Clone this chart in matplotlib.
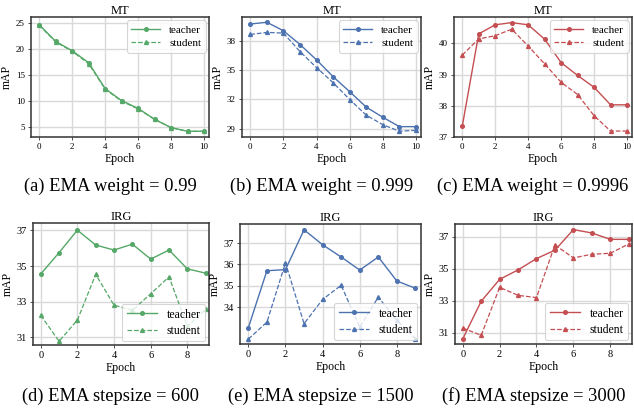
"""
EMA weight / stepsize ablation: teacher vs student mAP per epoch
"""

import numpy as np
import matplotlib.pyplot as plt

plt.rcParams['font.family'] = ['Liberation Serif', 'DejaVu Serif']
plt.rcParams['mathtext.fontset'] = 'stix'

green = '#55A868'
blue = '#4C72B0'
red = '#C44E52'

# top row: MT, 11 epochs
epochs_mt = list(range(11))
teacher_a = [24.6, 21.4, 19.6, 17.3, 12.3, 10.0, 8.5, 6.4, 4.8, 4.1, 4.1]
student_a = [24.5, 21.3, 19.5, 17.1, 12.2, 9.9, 8.4, 6.4, 4.8, 4.1, 4.1]
teacher_b = [39.72, 39.9, 39.03, 37.62, 36.04, 34.32, 32.78, 31.2, 30.16, 29.2, 29.2]
student_b = [38.65, 38.86, 38.79, 36.9, 35.25, 33.7, 31.98, 30.37, 29.4, 28.73, 28.83]
teacher_c = [37.34, 40.30, 40.59, 40.66, 40.59, 40.13, 39.38, 38.97, 38.59, 38.03, 38.03]
student_c = [39.62, 40.14, 40.24, 40.45, 39.91, 39.34, 38.75, 38.36, 37.68, 37.19, 37.19]

# bottom row: IRG, 10 epochs
epochs_irg = list(range(10))
teacher_d = [34.55, 35.75, 37.02, 36.18, 35.9, 36.23, 35.39, 35.9, 34.84, 34.6]
student_d = [32.23, 30.77, 31.96, 34.53, 32.8, 32.51, 33.44, 34.39, 31.61, 32.57]
teacher_e = [33.05, 35.71, 35.76, 37.62, 36.92, 36.35, 35.74, 36.35, 35.23, 34.89]
student_e = [32.52, 33.31, 36.08, 33.24, 34.37, 35.03, 33.07, 34.48, 33.39, 32.53]
teacher_f = [30.63, 32.98, 34.35, 34.94, 35.65, 36.17, 37.46, 37.25, 36.85, 36.85]
student_f = [31.31, 30.85, 33.85, 33.35, 33.21, 36.5, 35.69, 35.92, 35.98, 36.56]

captions = ['(a) EMA weight = 0.99', '(b) EMA weight = 0.999', '(c) EMA weight = 0.9996',
            '(d) EMA stepsize = 600', '(e) EMA stepsize = 1500', '(f) EMA stepsize = 3000']

W, H = 634, 409
fig = plt.figure(figsize=(W / 100, H / 100), dpi=100)

def px_axes(left, right, top, bottom):
    return fig.add_axes([left / W, 1 - bottom / H, (right - left) / W, (bottom - top) / H])

# (data, color, title, yticks, ylim, xlim, legend loc, box in px, tick size)
panels = [
    (epochs_mt, teacher_a, student_a, green, 'MT', [5, 10, 15, 20, 25], (3.0, 26.1), (-0.5, 10.3), 'upper right', (31, 209, 17, 137), 6.5),
    (epochs_mt, teacher_b, student_b, blue, 'MT', [29, 32, 35, 38], (28.14, 40.44), (-0.5, 10.3), 'upper right', (242, 421, 17, 137), 6.5),
    (epochs_mt, teacher_c, student_c, red, 'MT', [37, 38, 39, 40], (37.0, 40.84), (-0.5, 10.3), 'upper right', (454, 632, 17, 137), 6.5),
    (epochs_irg, teacher_d, student_d, green, 'IRG', [31, 33, 35, 37], (30.56, 37.42), (-0.42, 9.18), 'lower right', (33, 209, 223, 345), 7.5),
    (epochs_irg, teacher_e, student_e, blue, 'IRG', [34, 35, 36, 37], (32.29, 37.89), (-0.45, 9.3), 'lower right', (240, 421, 224, 344), 7.5),
    (epochs_irg, teacher_f, student_f, red, 'IRG', [31, 33, 35, 37], (30.31, 37.81), (-0.42, 9.18), 'lower right', (455, 632, 224, 344), 7.5),
]

for i, (x, t, s, col, title, yt, yl, xl, loc, box, fs) in enumerate(panels):
    ax = px_axes(*box)
    ax.plot(x, t, '-', marker='o', color=col, lw=1.0, ms=2.6, label='teacher')
    ax.plot(x, s, '--', marker='^', color=col, lw=0.9, ms=2.8, label='student')
    ax.set_xticks(np.arange(0, len(x), 2))
    ax.set_yticks(yt)
    ax.set_ylim(yl)
    ax.set_xlim(xl)
    ax.grid(True, color='#d9d9d9', lw=1.0)
    ax.set_axisbelow(True)
    for sp in ax.spines.values():
        sp.set_color('#333333')
        sp.set_linewidth(1.1)
    ax.tick_params(labelsize=fs, length=2.5, width=0.6, pad=2, color='#333333')
    ax.set_title(title, fontsize=9, pad=2)
    ax.set_xlabel('Epoch', fontsize=8.5, labelpad=1)
    ax.set_ylabel('mAP', fontsize=8.5, labelpad=2)
    leg = ax.legend(loc=loc, fontsize=8.5 if i >= 3 else 8, frameon=True, fancybox=True,
                    handlelength=2.6, borderpad=0.4, labelspacing=0.35, borderaxespad=0.3)
    leg.get_frame().set_edgecolor('#cccccc')
    leg.get_frame().set_linewidth(0.8)
    cx = (box[0] + box[1]) / 2 - 10
    cy = 186 if i < 3 else 396
    fig.text(cx / W, 1 - cy / H, captions[i], fontsize=13.3, ha='center', va='center')

fig.savefig('out.png', dpi=100)
